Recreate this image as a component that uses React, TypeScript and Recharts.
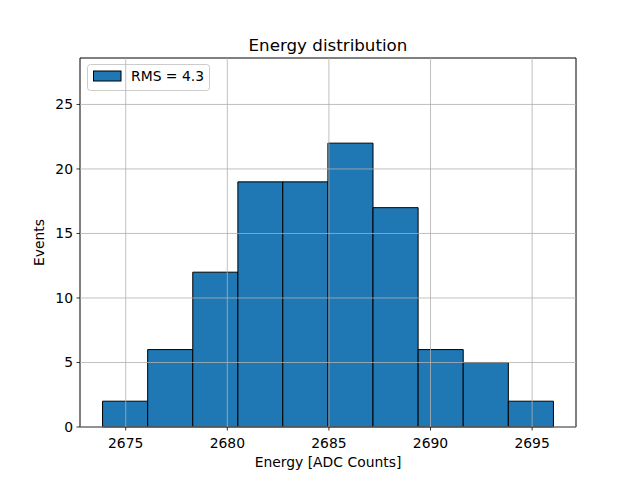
import { ComposedChart, ReferenceArea, ReferenceLine, XAxis, YAxis } from "recharts";

const binEdges = [
  2673.86, 2676.08, 2678.3, 2680.52, 2682.73, 2684.95, 2687.17, 2689.39,
  2691.61, 2693.83, 2696.05,
];
const counts = [2, 6, 12, 19, 19, 22, 17, 6, 5, 2];
const xTicks = [2675, 2680, 2685, 2690, 2695];
const yTicks = [0, 5, 10, 15, 20, 25];
const xDomain = [2672.75, 2697.16];
const yDomain = [0, 28.6];
const legendLabel = "RMS = 4.3";

const FONT = "DejaVu Sans, sans-serif";
const BAR_FILL = "#1f77b4";
const GRID = "#b0b0b0";
const TICK = { fontSize: 13.9, fill: "#000", fontFamily: FONT };

const bins = counts.map((count, i) => ({
  center: (binEdges[i] + binEdges[i + 1]) / 2,
  x1: binEdges[i],
  x2: binEdges[i + 1],
  count,
}));

export default function App() {
  return (
    <div style={{ position: "absolute", left: 0, top: 0, background: "#fff" }}>
      <ComposedChart
        width={640}
        height={480}
        data={bins}
        margin={{ top: 58, right: 64, bottom: 0, left: 0 }}
        style={{ fontFamily: FONT }}
      >
        <XAxis
          dataKey="center"
          type="number"
          domain={xDomain}
          ticks={xTicks}
          allowDataOverflow
          height={53}
          axisLine={false}
          tickLine={{ stroke: "#000", strokeWidth: 0.8 }}
          tickSize={3.5}
          tickMargin={7.5}
          tick={TICK}
        />
        <YAxis
          type="number"
          domain={yDomain}
          ticks={yTicks}
          allowDataOverflow
          width={80}
          axisLine={false}
          tickLine={{ stroke: "#000", strokeWidth: 0.8 }}
          tickSize={3.5}
          tickMargin={3.5}
          tick={TICK}
        />
        {bins.map((b, i) => (
          <ReferenceArea
            key={"bin" + i}
            x1={b.x1}
            x2={b.x2}
            y1={0}
            y2={b.count}
            fill={BAR_FILL}
            fillOpacity={1}
            stroke="#000"
            strokeWidth={1}
            strokeOpacity={1}
          />
        ))}
        {xTicks.map((t) => (
          <ReferenceLine key={"gx" + t} x={t} stroke={GRID} strokeWidth={0.8} />
        ))}
        {yTicks.map((t) => (
          <ReferenceLine key={"gy" + t} y={t} stroke={GRID} strokeWidth={0.8} />
        ))}
        <ReferenceArea
          x1={xDomain[0]}
          x2={xDomain[1]}
          y1={yDomain[0]}
          y2={yDomain[1]}
          fill="#fff"
          fillOpacity={0}
          stroke="#000"
          strokeWidth={1}
          strokeOpacity={1}
        />
        <text
          x={328}
          y={50.5}
          textAnchor="middle"
          fontSize={16.7}
          fontFamily={FONT}
          fill="#000"
        >
          Energy distribution
        </text>
        <text
          x={328}
          y={467}
          textAnchor="middle"
          fontSize={13.9}
          fontFamily={FONT}
          fill="#000"
        >
          Energy [ADC Counts]
        </text>
        <text
          x={44}
          y={242.5}
          textAnchor="middle"
          fontSize={13.9}
          fontFamily={FONT}
          fill="#000"
          transform="rotate(-90 44 242.5)"
        >
          Events
        </text>
        <g>
          <rect
            x={87.5}
            y={64.5}
            width={122}
            height={26}
            rx={3}
            fill="#fff"
            fillOpacity={0.8}
            stroke="#cccccc"
            strokeWidth={1}
          />
          <rect
            x={93.5}
            y={71}
            width={27.5}
            height={10}
            fill={BAR_FILL}
            stroke="#000"
            strokeWidth={1}
          />
          <text x={131} y={81} fontSize={13.9} fontFamily={FONT} fill="#000">
            {legendLabel}
          </text>
        </g>
      </ComposedChart>
    </div>
  );
}
